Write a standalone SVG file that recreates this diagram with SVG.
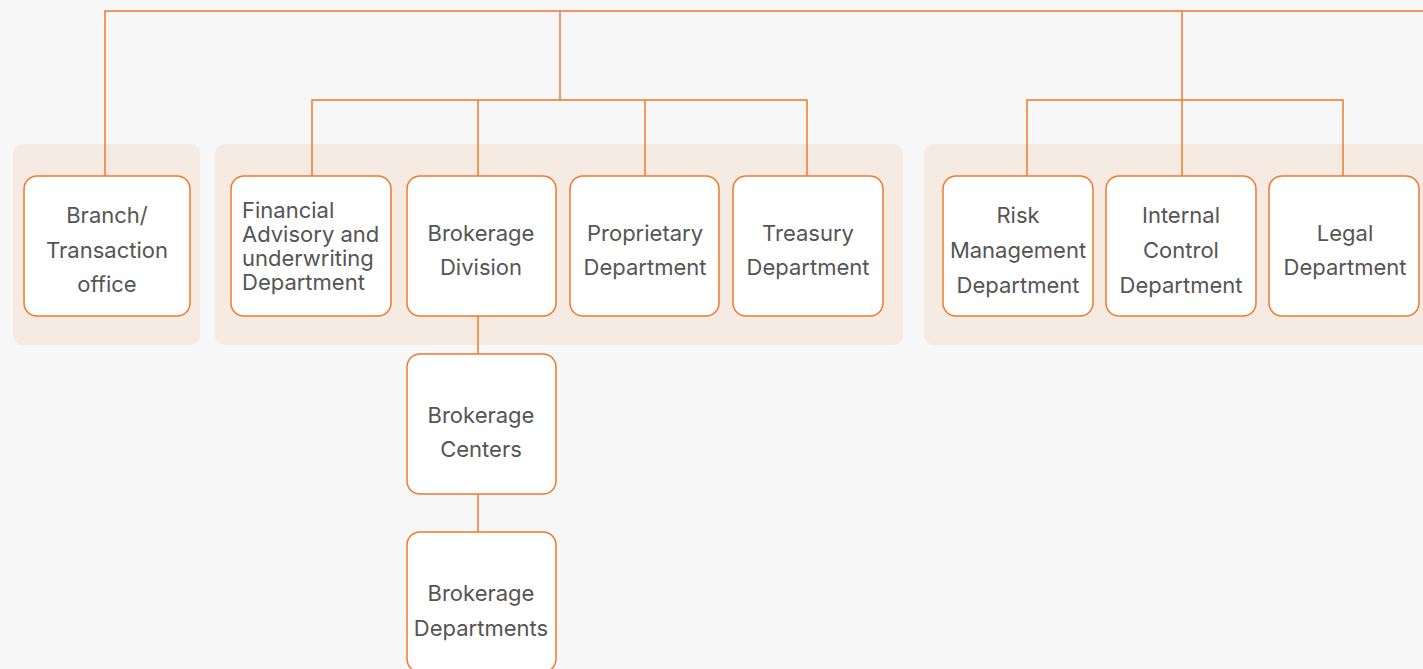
<svg xmlns="http://www.w3.org/2000/svg" width="1423" height="669" viewBox="0 0 1423 669">
<style>
.panel{fill:#f6ebe2}
.node rect{fill:#ffffff;stroke:#f07a2b;stroke-width:1.5}
.conn{stroke:#f07a2b;stroke-width:1.5;fill:none}
text{font-family:Inter,"Noto Sans",sans-serif;font-size:22px;fill:#555555}
.c{text-anchor:middle}
</style>
<rect width="1423" height="669" fill="#f7f7f7"/>
<rect class="panel" x="13" y="144" width="187" height="201" rx="10"/>
<rect class="panel" x="215" y="144" width="688" height="201" rx="10"/>
<rect class="panel" x="924" y="144" width="520" height="201" rx="10"/>
<g id="connectors">
<path class="conn" d="M105,176 V11 H1423"/>
<path class="conn" d="M560,11 V100"/>
<path class="conn" d="M312,176 V100 H807 V176"/>
<path class="conn" d="M478,100 V176"/>
<path class="conn" d="M645,100 V176"/>
<path class="conn" d="M1182,11 V176"/>
<path class="conn" d="M1027,176 V100 H1343 V176"/>
<path class="conn" d="M478,316 V354"/>
<path class="conn" d="M478,494 V532"/>
</g>
<g id="branch" class="node"><rect x="24" y="176" width="166" height="140" rx="13"/>
<text class="c" x="107" y="223">Branch/</text><text class="c" x="107" y="258">Transaction</text><text class="c" x="107" y="292">office</text></g>
<g id="financial" class="node"><rect x="231" y="176" width="160" height="140" rx="13"/>
<text x="242" y="218">Financial</text><text x="242" y="242">Advisory and</text><text x="242" y="266">underwriting</text><text x="242" y="290">Department</text></g>
<g id="brokerage-division" class="node"><rect x="407" y="176" width="149" height="140" rx="13"/>
<text class="c" x="481" y="241">Brokerage</text><text class="c" x="481" y="275">Division</text></g>
<g id="proprietary" class="node"><rect x="570" y="176" width="149" height="140" rx="13"/>
<text class="c" x="645" y="241">Proprietary</text><text class="c" x="645" y="275">Department</text></g>
<g id="treasury" class="node"><rect x="733" y="176" width="150" height="140" rx="13"/>
<text class="c" x="808" y="241">Treasury</text><text class="c" x="808" y="275">Department</text></g>
<g id="risk" class="node"><rect x="943" y="176" width="150" height="140" rx="13"/>
<text class="c" x="1018" y="223">Risk</text><text class="c" x="1018" y="258">Management</text><text class="c" x="1018" y="293">Department</text></g>
<g id="internal" class="node"><rect x="1106" y="176" width="150" height="140" rx="13"/>
<text class="c" x="1181" y="223">Internal</text><text class="c" x="1181" y="258">Control</text><text class="c" x="1181" y="293">Department</text></g>
<g id="legal" class="node"><rect x="1269" y="176" width="150" height="140" rx="13"/>
<text class="c" x="1345" y="241">Legal</text><text class="c" x="1345" y="275">Department</text></g>
<g id="brokerage-centers" class="node"><rect x="407" y="354" width="149" height="140" rx="13"/>
<text class="c" x="481" y="423">Brokerage</text><text class="c" x="481" y="457">Centers</text></g>
<g id="brokerage-departments" class="node"><rect x="407" y="532" width="149" height="140" rx="13"/>
<text class="c" x="481" y="601">Brokerage</text><text class="c" x="481" y="636">Departments</text></g>
</svg>
